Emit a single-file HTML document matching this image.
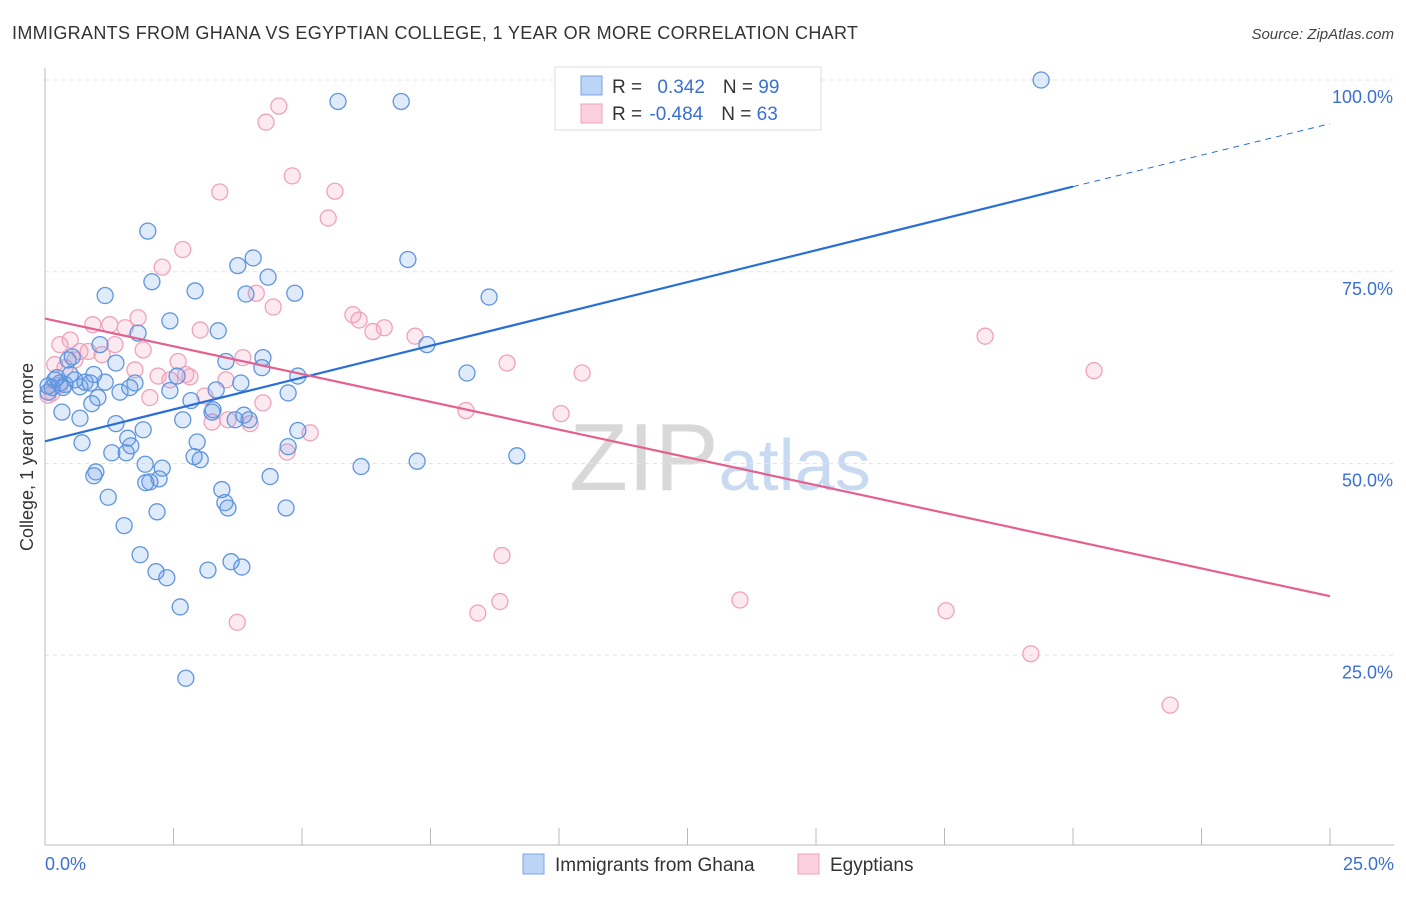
<!DOCTYPE html>
<html><head><meta charset="utf-8">
<style>
body{margin:0;background:#fff;font-family:"Liberation Sans",sans-serif;}
svg text{font-family:"Liberation Sans",sans-serif;}
</style></head>
<body>
<svg id="chart" width="1406" height="892" viewBox="0 0 1406 892" xmlns="http://www.w3.org/2000/svg">
<text x="12" y="39" font-size="18" fill="#333" textLength="846">IMMIGRANTS FROM GHANA VS EGYPTIAN COLLEGE, 1 YEAR OR MORE CORRELATION CHART</text>
<text x="1394" y="39" font-size="15" fill="#444" text-anchor="end" font-style="italic">Source: ZipAtlas.com</text>
<text x="720" y="490" font-size="96" text-anchor="middle" font-family="Liberation Serif" fill="#d8d8d8"><tspan>ZIP</tspan><tspan fill="#c8daf2" font-family="Liberation Sans" font-size="72">atlas</tspan></text>
<g id="grid"></g>
<g id="axes"></g>
<g id="points"></g>
<g id="lines"></g>
<text transform="translate(33,457) rotate(-90)" font-size="18" fill="#333" text-anchor="middle">College, 1 year or more</text>
<g>
<rect x="555" y="67" width="266" height="63" fill="#fff" stroke="#ddd"/>
<rect x="581" y="76" width="21" height="19" fill="#bcd4f5" stroke="#7aa6e6"/>
<rect x="581" y="104" width="21" height="19" fill="#fbd0de" stroke="#f0a0b8"/>
<text x="612" y="93" font-size="19" fill="#333">R = <tspan fill="#3a70d0" dx="10">0.342</tspan><tspan dx="18" fill="#333">N = </tspan><tspan fill="#3a70d0">99</tspan></text>
<text x="612" y="120" font-size="19" fill="#333">R = <tspan fill="#3a70d0" dx="2">-0.484</tspan><tspan dx="18" fill="#333">N = </tspan><tspan fill="#3a70d0">63</tspan></text>
</g>
<g>
<rect x="523" y="854" width="21" height="20" fill="#bcd4f5" stroke="#7aa6e6"/>
<text x="555" y="871" font-size="19" fill="#333">Immigrants from Ghana</text>
<rect x="798" y="854" width="21" height="20" fill="#fbd0de" stroke="#f0a0b8"/>
<text x="830" y="871" font-size="19" fill="#333">Egyptians</text>
</g>
</svg>
<script>
const xTicks=[0,2.5,5,7.5,10,12.5,15,17.5,20,22.5,25];
const yTicks=[25,50,75,100];
const yTickLabels=["25.0%","50.0%","75.0%","100.0%"];
const xEndLabels=["0.0%","25.0%"];
const ghanaX=[0.14,0.19,0.29,0.39,0.49,0.58,0.68,0.78,0.88,0.06,0.33,0.68,0.91,1.03,1.17,1.07,1.46,1.75,1.17,2.00,1.81,2.08,2.43,2.92,3.37,3.75,4.05,4.34,3.91,4.86,5.70,6.93,7.06,8.64,7.43,8.21,9.18,7.24,6.15,19.38,4.92,4.73,4.24,4.22,3.81,3.52,3.33,2.84,2.57,2.43,2.68,2.96,3.02,2.90,3.27,3.70,3.87,3.97,4.92,4.73,4.38,4.69,3.44,3.50,3.56,3.62,3.83,3.17,2.37,2.16,1.85,2.63,2.74,1.54,1.23,0.99,0.95,1.30,1.58,1.61,1.38,1.91,1.67,1.95,2.28,2.22,2.04,1.96,2.18,0.72,0.95,1.38,1.65,3.25,0.45,0.53,0.06,0.23,0.35];
const ghanaY=[59.9,60.9,60.5,60.3,61.6,60.9,60.0,60.6,60.5,59.3,56.7,55.9,57.8,58.6,60.6,65.5,59.3,60.5,71.9,80.3,67.0,73.7,68.6,72.5,67.3,75.8,76.8,74.3,72.1,72.2,97.2,97.2,76.6,71.7,65.5,61.8,51.0,50.3,49.6,100.0,61.4,59.2,63.8,62.5,60.5,63.3,59.6,58.2,61.4,59.5,55.7,52.8,50.5,50.9,57.0,55.7,56.3,55.7,54.3,52.2,48.3,44.2,46.6,44.9,44.2,37.2,36.5,36.1,35.1,35.9,38.1,31.3,22.0,41.9,45.6,48.9,48.4,51.4,51.4,53.3,55.2,54.4,52.3,49.9,49.4,48.0,47.6,47.5,43.7,52.7,61.6,63.1,59.9,56.7,63.5,63.9,60.1,61.2,59.9];
const egyX=[0.14,0.19,0.29,0.49,0.58,0.68,0.84,0.93,1.11,1.26,1.36,1.56,1.75,1.81,1.91,2.04,2.20,2.28,2.43,2.59,2.68,2.74,2.82,3.02,3.11,3.25,3.40,3.52,3.56,3.74,3.85,3.99,4.11,4.24,4.30,4.55,4.44,4.81,4.71,5.16,5.51,5.64,5.99,6.11,6.38,6.60,7.20,8.19,8.42,8.85,8.89,8.99,10.04,10.45,13.52,17.53,18.29,19.18,20.41,21.89,0.06,0.39,0.29];
const egyY=[59.2,62.9,65.5,66.1,63.5,64.6,64.6,68.1,64.2,68.1,65.5,67.7,62.2,69.0,64.8,58.6,61.4,75.6,60.9,63.3,77.9,61.6,61.3,67.4,58.8,55.4,85.4,60.9,55.7,29.3,63.8,55.2,72.2,57.9,94.5,96.6,70.4,87.5,51.5,54.0,82.0,85.5,69.4,68.7,67.2,67.7,66.6,56.9,30.5,32.0,38.0,63.1,56.5,61.8,32.2,30.8,66.6,25.2,62.1,18.5,58.9,62.5,60.2];
const ghanaLineX=[0,20,25];
const ghanaLineY=[52.9,86.1,94.3];
const egyLineX=[0,25];
const egyLineY=[68.9,32.7];

const NS="http://www.w3.org/2000/svg";
const X0=45,X1=1330,YB=847,YT=80;
const sx=v=>X0+(X1-X0)*v/25;
const sy=v=>YB-(YB-YT)*v/100;
function mk(tag,attrs,parent){const e=document.createElementNS(NS,tag);for(const k in attrs)e.setAttribute(k,attrs[k]);parent.appendChild(e);return e;}
const grid=document.getElementById('grid'),axes=document.getElementById('axes'),pts=document.getElementById('points'),lines=document.getElementById('lines');
yTicks.forEach((t,i)=>{
 const g=mk('line',{x1:45,x2:1394,y1:sy(t),y2:sy(t),stroke:'#e4e4e4','stroke-dasharray':'4,4'},grid);
 
 
 const tx=mk('text',{x:1393,y:sy(t)+23,'font-size':18,fill:'#3a70d0','text-anchor':'end'},axes);
 tx.textContent=yTickLabels[i];
 
 
});
const ya=mk('line',{x1:45,x2:45,y1:68,y2:845,stroke:'#bbb'},axes);


const xa=mk('line',{x1:45,x2:1394,y1:845,y2:845,stroke:'#bbb'},axes);


xTicks.forEach(t=>{
 const l=mk('line',{x1:sx(t),x2:sx(t),y1:828,y2:845,stroke:'#bbb'},axes);
 
 
});
const xl0=mk('text',{x:45,y:870,'font-size':18,fill:'#3a70d0'},axes);xl0.textContent=xEndLabels[0];


const xl1=mk('text',{x:1394,y:870,'font-size':18,fill:'#3a70d0','text-anchor':'end'},axes);xl1.textContent=xEndLabels[1];


egyX.forEach((v,i)=>{
 const c=mk('circle',{cx:sx(v),cy:sy(egyY[i]),r:8,fill:'rgba(244,160,185,0.22)',stroke:'#f0a2bb','stroke-width':1.3},pts);
 
 
});
ghanaX.forEach((v,i)=>{
 const c=mk('circle',{cx:sx(v),cy:sy(ghanaY[i]),r:8,fill:'rgba(110,160,230,0.22)',stroke:'#5f95dd','stroke-width':1.3},pts);
 
 
});
const gl=mk('line',{x1:sx(ghanaLineX[0]),y1:sy(ghanaLineY[0]),x2:sx(ghanaLineX[1]),y2:sy(ghanaLineY[1]),stroke:'#2a6fd6','stroke-width':2.2},lines);


const gd=mk('line',{x1:sx(ghanaLineX[1]),y1:sy(ghanaLineY[1]),x2:sx(ghanaLineX[2]),y2:sy(ghanaLineY[2]),stroke:'#2a6fd6','stroke-width':1,'stroke-dasharray':'6,5'},lines);


const el=mk('line',{x1:sx(egyLineX[0]),y1:sy(egyLineY[0]),x2:sx(egyLineX[1]),y2:sy(egyLineY[1]),stroke:'#e4608e','stroke-width':2.2},lines);


</script>
</body></html>
